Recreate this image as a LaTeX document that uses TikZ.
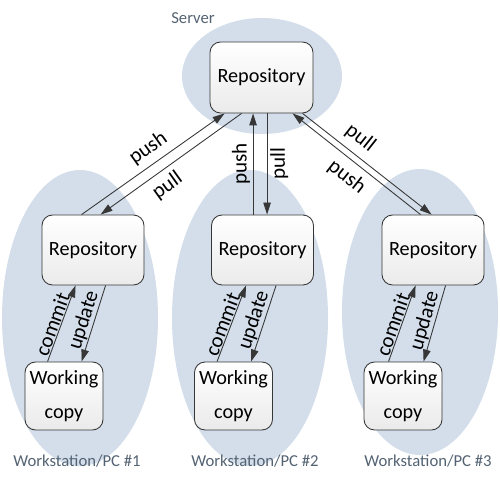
\documentclass[tikz,border=0pt]{standalone}
\usepackage{fontspec}
\setmainfont{Carlito}
\usepackage{tikz}
\usetikzlibrary{calc}
\usetikzlibrary{positioning}
\usetikzlibrary{arrows.meta}
\usepackage{xcolor}
\definecolor{zonecol}{RGB}{211,222,234}
\definecolor{captcol}{RGB}{84,99,115}
\definecolor{edgecol}{RGB}{55,55,55}

\begin{document}
\begin{tikzpicture}[
		box/.style  = {rectangle, rounded corners=6pt, draw=edgecol, line width=0.5pt, top color=white, bottom color=black!8, align=center, inner sep=0pt, font=\fontsize{11.5}{19}\selectfont},
		repo/.style = {box, minimum width=2.04cm, minimum height=1.4cm},
		wc/.style   = {box, minimum width=1.56cm, minimum height=1.36cm},
		zone/.style = {fill=zonecol},
		flow/.style = {-{Triangle[length=2.4mm, width=1.5mm]}, draw=edgecol, line width=0.5pt},
		lbl/.style  = {inner sep=1.5pt, font=\fontsize{12}{14}\selectfont},
		vc/.style   = {lbl, inner sep=0.4pt, above, sloped},
		note/.style = {text=captcol, font=\fontsize{9.5}{11}\selectfont}
		]
		\useasboundingbox (0,0) rectangle (10,-10);
		
		% === === Zones === ===
		\fill[zone]	(5.24,-1.52)	ellipse	(1.6 and 1.16);
		\fill[zone]	(1.6,-6.36)		ellipse	(1.56 and 2.96);
		\fill[zone]	(5.0,-6.36)		ellipse	(1.56 and 2.96);
		\fill[zone]	(8.4,-6.24)		ellipse	(1.56 and 2.86);
		
		\node[note]	(server)	at	(3.86,-0.36)	{Server};
		\node[note]	(pc1)		at	(1.54,-9.22)	{Workstation/PC \#1};
		\node[note]	(pc2)		at	(5.10,-9.22)	{Workstation/PC \#2};
		\node[note]	(pc3)		at	(8.56,-9.22)	{Workstation/PC \#3};
		
		
		% === === Nodes === ===
		\node[repo, minimum width=2.06cm, minimum height=1.42cm]	(srv)	at	(5.23,-1.55)	{Repository};
		\node[repo]	(rA)	at	(1.86,-5.0)		{Repository};
		\node[repo]	(rB)	at	(5.25,-5.0)		{Repository};
		\node[repo]	(rC)	at	(8.66,-5.0)		{Repository};
		\node[wc]	(wA)	at	(1.28,-7.92)	{Working\\copy};
		\node[wc]	(wB)	at	(4.67,-7.92)	{Working\\copy};
		\node[wc]	(wC)	at	(8.06,-7.92)	{Working\\copy};
		
		\coordinate	(pB)	at	([xshift=0.84cm]rB.north west);
		\coordinate	(qB)	at	([xshift=1.12cm]rB.north west);
		
		
		% === === Lines === ===
		\draw[flow]	([xshift=0.8cm]rA.north west)	--	node[lbl, above=2pt, sloped, pos=0.53]	{push}	([xshift=0.3cm]srv.south west);
		\draw[flow]	([xshift=0.64cm]srv.south west)	--	node[lbl, below=2pt, sloped, pos=0.59]	{pull}	([xshift=1.18cm]rA.north west);
		\draw[flow]	(pB)	--	node[lbl, rotate=90, anchor=south]	{push}	(pB |- srv.south);
		\draw[flow]	(qB |- srv.south)	--	node[lbl, rotate=90, anchor=north]	{pull}	(qB);
		\draw[flow]	([xshift=0.78cm]rC.north west)	--	node[lbl, above=6pt, sloped, pos=0.58]	{pull}	([xshift=1.66cm]srv.south west);
		\draw[flow]	([xshift=1.86cm]srv.south west)	--	node[lbl, below=6pt, sloped, pos=0.45]	{push}	([xshift=1.0cm]rC.north west);
		
		\draw[flow]	([xshift=0.46cm]wA.north west)	--	node[vc, pos=0.45]	{commit}	([xshift=0.68cm]rA.south west);
		\draw[flow]	([xshift=1.28cm]rA.south west)	--	node[vc]	{update}	([xshift=1.14cm]wA.north west);
		\draw[flow]	([xshift=0.46cm]wB.north west)	--	node[vc, pos=0.45]	{commit}	([xshift=0.70cm]rB.south west);
		\draw[flow]	([xshift=1.30cm]rB.south west)	--	node[vc]	{update}	([xshift=1.14cm]wB.north west);
		\draw[flow]	([xshift=0.50cm]wC.north west)	--	node[vc, pos=0.45]	{commit}	([xshift=0.68cm]rC.south west);
		\draw[flow]	([xshift=1.28cm]rC.south west)	--	node[vc]	{update}	([xshift=1.20cm]wC.north west);
		
	\end{tikzpicture}
\end{document}
